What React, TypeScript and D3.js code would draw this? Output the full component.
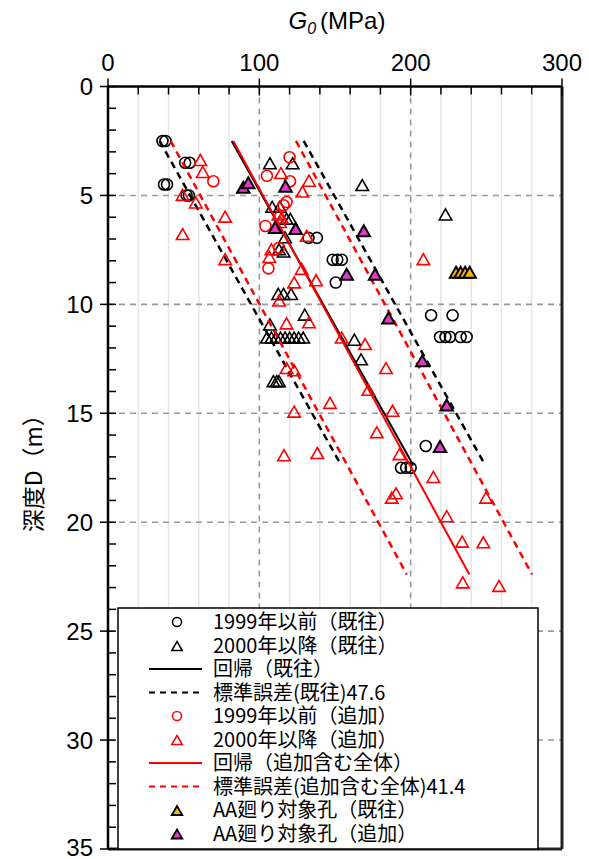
import React from 'react';
import * as d3 from 'd3';

// ---- data: [G0 (MPa), depth D (m)] ----
const xTickValues = [0, 100, 200, 300];
const yTickValues = [0, 5, 10, 15, 20, 25, 30, 35];

const pre1999Old: [number, number][] = [
  [36, 2.5], [38, 2.5], [51, 3.5], [54, 3.5], [37, 4.5], [39, 4.5], [52, 5.0], [53.5, 5.0],
  [132.5, 6.95], [138, 6.95], [148.5, 7.95], [151.5, 7.95], [154.5, 7.95], [150.5, 9.0],
  [213.5, 10.5], [227.7, 10.5], [219.4, 11.5], [223, 11.5], [226, 11.5], [233, 11.5], [237, 11.5],
  [210, 16.5], [193.6, 17.5], [197, 17.5], [200, 17.5],
];

const post2000Old: [number, number][] = [
  [107, 3.5], [122, 3.5], [168, 4.5], [223, 5.85], [108.5, 5.5], [113.5, 5.5], [118, 6.05], [120.5, 6.05],
  [117, 6.9], [113, 7.45], [116, 7.55], [112.5, 9.5], [116, 9.5], [121, 9.5], [130, 10.45], [107, 10.9],
  [105, 11.5], [108, 11.5], [111, 11.5], [114, 11.5], [117, 11.5], [120, 11.5], [123, 11.5], [126, 11.5], [129, 11.5],
  [162.8, 11.6], [167.2, 12.5], [109.3, 13.5], [111.5, 13.5], [113, 13.5],
];

const pre1999Add: [number, number][] = [
  [120, 3.25], [105, 4.1], [69.6, 4.35], [120.3, 4.35], [118, 5.3], [116, 5.45], [104, 6.4], [113, 7.4], [106, 8.35],
];

const post2000Add: [number, number][] = [
  [61, 3.35], [62.6, 3.9], [49.3, 4.95], [58, 5.3], [77.4, 5.95], [49.3, 6.75], [77.4, 7.9],
  [114.3, 3.95], [132.8, 4.3], [128.5, 4.8], [112.6, 5.85], [114.8, 6.0], [113.7, 6.2], [131.3, 6.83],
  [108, 7.45], [106.6, 7.8], [208.4, 7.9], [128, 8.35], [123, 8.97], [137.5, 8.87], [113, 9.8],
  [118, 10.85], [132.8, 10.8], [154.4, 11.5], [169.9, 11.8], [183.7, 12.9], [118, 12.9], [123, 13.0],
  [172, 13.9], [146.7, 14.5], [123, 14.9], [188, 14.86], [177.6, 15.85], [116.3, 16.9], [138.3, 16.8],
  [192.6, 16.85], [215, 17.9], [187.5, 18.85], [190.3, 18.65], [249.8, 18.85], [223.8, 19.7],
  [234, 20.87], [248, 20.9], [234.4, 22.74], [258.4, 22.9],
];

const aaOld: [number, number][] = [[230, 8.5], [233, 8.5], [236, 8.5], [239, 8.5]];

const aaAdd: [number, number][] = [
  [89.4, 4.6], [92.7, 4.4], [117.3, 4.55], [110.4, 6.45], [124, 6.5], [169, 6.6], [157.7, 8.6],
  [176.5, 8.6], [185.3, 10.6], [207.7, 12.57], [223.8, 14.6], [219.4, 16.5],
];

// regression end points [G0, D] and standard errors
const regOld: [number, number][] = [[81.7, 2.5], [201.8, 17.4]];
const seOld = 47.6;
const regAll: [number, number][] = [[82.8, 2.5], [238.8, 22.4]];
const seAll = 41.4;

const legendLabels = [
  '1999年以前（既往）',
  '2000年以降（既往）',
  '回帰（既往）',
  '標準誤差(既往)47.6',
  '1999年以前（追加）',
  '2000年以降（追加）',
  '回帰（追加含む全体）',
  '標準誤差(追加含む全体)41.4',
  'AA廻り対象孔（既往）',
  'AA廻り対象孔（追加）',
];

const RED = '#ff0000';
const GOLD = '#F7B500';
const MAGENTA = '#E03CC8';

const W = 589;
const H = 859;
const L = 108, R = 562, T = 86.5, B = 849;

const x = d3.scaleLinear().domain([0, 300]).range([L, R]);
const y = d3.scaleLinear().domain([0, 35]).range([T, B]);

const tri = (cx: number, cy: number, w: number, h: number) =>
  `M${cx},${cy - h / 2}L${cx + w / 2},${cy + h / 2}L${cx - w / 2},${cy + h / 2}Z`;

const lineGen = d3.line<[number, number]>().x((d) => x(d[0])).y((d) => y(d[1]));

const shift = (pts: [number, number][], dx: number): [number, number][] =>
  pts.map((p) => [p[0] + dx, p[1]] as [number, number]);

type Mk = { kind: 'circle' | 'tri' | 'line' | 'dash'; stroke: string; fill: string };
const legendMarks: Mk[] = [
  { kind: 'circle', stroke: '#000', fill: 'none' },
  { kind: 'tri', stroke: '#000', fill: 'none' },
  { kind: 'line', stroke: '#000', fill: 'none' },
  { kind: 'dash', stroke: '#000', fill: 'none' },
  { kind: 'circle', stroke: RED, fill: 'none' },
  { kind: 'tri', stroke: RED, fill: 'none' },
  { kind: 'line', stroke: RED, fill: 'none' },
  { kind: 'dash', stroke: RED, fill: 'none' },
  { kind: 'tri', stroke: '#000', fill: GOLD },
  { kind: 'tri', stroke: '#000', fill: MAGENTA },
];

const CJK = '"Noto Sans CJK JP", "Noto Sans", sans-serif';
const NUM = '"Liberation Sans", Arial, sans-serif';

export default function App() {
  const minorX = d3.range(20, 300, 20).filter((v) => v % 100 !== 0);
  const majorXGrid = [100, 200];
  const hGrid = d3.range(5, 35, 5);
  const minorY = d3.range(0, 36, 1).filter((v) => v % 5 !== 0);
  const minorXTicks = d3.range(0, 301, 20).filter((v) => v % 100 !== 0);

  const circles = (data: [number, number][], stroke: string, key: string) =>
    data.map((d, i) => (
      <circle key={key + i} cx={x(d[0])} cy={y(d[1])} r={5.5} fill="none" stroke={stroke} strokeWidth={1.6} />
    ));
  const triangles = (data: [number, number][], stroke: string, fill: string, key: string, sw = 1.6) =>
    data.map((d, i) => (
      <path key={key + i} d={tri(x(d[0]), y(d[1]) + 0.5, 12.5, 11)} fill={fill} stroke={stroke} strokeWidth={sw} strokeLinejoin="miter" />
    ));

  const legX = 118, legY = 608, legW = 420, legH = B - 608;
  const rowY = (i: number) => 622 + i * 23.5;

  return (
    <svg width={W} height={H} style={{ position: 'absolute', left: 0, top: 0, background: '#fff' }}>
      <rect x={0} y={0} width={W} height={H} fill="#fff" />
      {/* grid */}
      {minorX.map((v) => (
        <line key={'mx' + v} x1={x(v)} x2={x(v)} y1={T} y2={B} stroke="#e6e6e6" strokeWidth={1.5} />
      ))}
      {majorXGrid.map((v) => (
        <line key={'gx' + v} x1={x(v)} x2={x(v)} y1={T} y2={B} stroke="#999" strokeWidth={1.6} strokeDasharray="6,5" />
      ))}
      {hGrid.map((v) => (
        <line key={'gy' + v} x1={L} x2={R} y1={y(v)} y2={y(v)} stroke="#999" strokeWidth={1.6} strokeDasharray="6,5" />
      ))}

      {/* series */}
      {circles(pre1999Old, '#000', 'co')}
      {triangles(post2000Old, '#000', 'none', 'to')}
      <path d={lineGen(regOld) || ''} stroke="#000" strokeWidth={2} fill="none" />
      <path d={lineGen(shift(regOld, -seOld)) || ''} stroke="#000" strokeWidth={2.5} strokeDasharray="7,5" fill="none" />
      <path d={lineGen(shift(regOld, seOld)) || ''} stroke="#000" strokeWidth={2.5} strokeDasharray="7,5" fill="none" />
      {circles(pre1999Add, RED, 'ca')}
      {triangles(post2000Add, RED, 'none', 'ta')}
      <path d={lineGen(regAll) || ''} stroke={RED} strokeWidth={2} fill="none" />
      <path d={lineGen(shift(regAll, -seAll)) || ''} stroke={RED} strokeWidth={2.5} strokeDasharray="7,5" fill="none" />
      <path d={lineGen(shift(regAll, seAll)) || ''} stroke={RED} strokeWidth={2.5} strokeDasharray="7,5" fill="none" />
      {triangles(aaOld, '#000', GOLD, 'go', 2)}
      {triangles(aaAdd, '#000', MAGENTA, 'ma', 2)}

      {/* frame */}
      <line x1={L} x2={R} y1={T} y2={T} stroke="#000" strokeWidth={2.5} />
      <line x1={L} x2={L} y1={T} y2={B} stroke="#000" strokeWidth={2.5} />
      <line x1={R} x2={R} y1={T} y2={B} stroke="#222" strokeWidth={3} />
      <line x1={L} x2={R} y1={B} y2={B} stroke="#222" strokeWidth={3} />

      {/* x ticks */}
      {minorXTicks.map((v) => (
        <line key={'xt' + v} x1={x(v)} x2={x(v)} y1={T} y2={T + 8} stroke="#000" strokeWidth={1.5} />
      ))}
      {xTickValues.map((v) => (
        <g key={'xT' + v}>
          <line x1={x(v)} x2={x(v)} y1={T - 8} y2={T + 9} stroke="#000" strokeWidth={1.5} />
          <text x={x(v)} y={71} textAnchor="middle" fontFamily={NUM} fontSize={24} fill="#000">{v}</text>
        </g>
      ))}
      {/* y ticks */}
      {minorY.map((v) => (
        <line key={'yt' + v} x1={L} x2={L + 8} y1={y(v)} y2={y(v)} stroke="#000" strokeWidth={1.5} />
      ))}
      {yTickValues.map((v) => (
        <g key={'yT' + v}>
          <line x1={L - 8} x2={L + 8} y1={y(v)} y2={y(v)} stroke="#000" strokeWidth={1.5} />
          <text x={93} y={Math.min(y(v) + 8.5, 856)} textAnchor="end" fontFamily={NUM} fontSize={24} fill="#000">{v}</text>
        </g>
      ))}

      {/* titles */}
      <text x={337} y={29} textAnchor="middle" fontFamily={NUM} fontSize={24} fill="#000">
        <tspan fontStyle="italic">G</tspan>
        <tspan fontStyle="italic" fontSize={16} dy={5}>0</tspan>
        <tspan dy={-5} dx={4}>(MPa)</tspan>
      </text>
      <text transform={`translate(42,${(T + B) / 2}) rotate(-90)`} textAnchor="middle" fontFamily={CJK} fontSize={23} fill="#000">
        深度D（m）
      </text>

      {/* legend */}
      <rect x={legX} y={legY} width={legW} height={legH} fill="#fff" stroke="#000" strokeWidth={1.5} />
      {legendLabels.map((lab, i) => {
        const m = legendMarks[i];
        const cy = rowY(i);
        let mark: React.ReactNode = null;
        if (m.kind === 'circle') mark = <circle cx={177} cy={cy} r={4.5} fill="none" stroke={m.stroke} strokeWidth={1.5} />;
        else if (m.kind === 'tri') mark = <path d={tri(177, cy + 0.5, 10.5, 9)} fill={m.fill} stroke={m.stroke} strokeWidth={m.fill === 'none' ? 1.5 : 1.8} />;
        else if (m.kind === 'line') mark = <line x1={149} x2={202} y1={cy} y2={cy} stroke={m.stroke} strokeWidth={2} />;
        else mark = <line x1={149} x2={202} y1={cy} y2={cy} stroke={m.stroke} strokeWidth={2} strokeDasharray="6,5" />;
        return (
          <g key={'lg' + i}>
            {mark}
            <text x={213} y={cy + 7} fontFamily={CJK} fontSize={20} fill="#000">{lab}</text>
          </g>
        );
      })}
    </svg>
  );
}
